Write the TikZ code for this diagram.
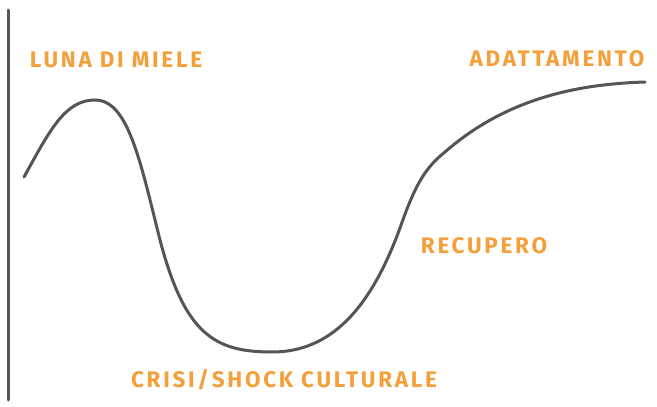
\documentclass[tikz,border=0pt]{standalone}
\usepackage{fontspec}
\newfontfamily\phasefont[LetterSpace=12,BoldFont={* Bold}]{Fira Sans}
\definecolor{phaseorange}{RGB}{244,160,58}
\definecolor{curvegray}{RGB}{85,85,85}
\tikzset{
  phase/.style={text=phaseorange, font=\phasefont\bfseries\fontsize{22.5}{26}\selectfont, inner sep=0pt},
  curve/.style={curvegray, line width=3pt, line cap=round}
}
\begin{document}
\begin{tikzpicture}[x=1pt,y=-1pt]
\useasboundingbox (0,0) rectangle (657,407);
% axis
\coordinate (top) at (8,10);
\coordinate (bottom) at (8,400);
\draw [curve] (top) -- (bottom);
% labels
\node [phase] (luna) at (116,60) {LUNA DI MIELE};
\node [phase] (adatt) at (557,59) {ADATTAMENTO};
\node [phase] (recup) at (484,246) {RECUPERO};
\node [phase] (crisi) at (284,380) {CRISI/SHOCK CULTURALE};
% curve
\coordinate (start) at (24,177);
\coordinate (peak) at (95,100);
\coordinate (drop) at (160,240);
\coordinate (trough) at (272,352);
\coordinate (rise) at (400,228);
\coordinate (bend) at (445,152);
\coordinate (end) at (645,82);
\draw [curve] (start) .. controls (50,130) and (65,100) .. (peak)
  .. controls (128,100) and (140,160) .. (drop)
  .. controls (185,335) and (215,352) .. (trough)
  .. controls (330,352) and (370,310) .. (rise)
  .. controls (415,185) and (425,168) .. (bend)
  .. controls (510,95) and (585,84) .. (end);
\end{tikzpicture}
\end{document}
